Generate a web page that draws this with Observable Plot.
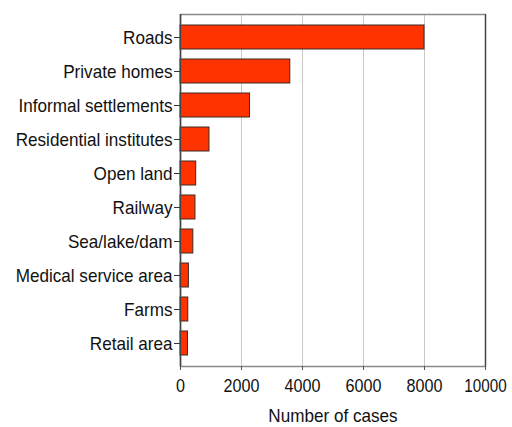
<!DOCTYPE html>
<html>
<head>
<meta charset="utf-8">
<script src="https://cdn.jsdelivr.net/npm/d3@7"></script>
<script src="https://cdn.jsdelivr.net/npm/@observablehq/plot@0.6"></script>
<style>
  html, body { margin: 0; padding: 0; background: #fff; }
  #chart svg { display: block; }
</style>
</head>
<body>
<div id="chart"></div>
<script>
const categories = ["Roads", "Private homes", "Informal settlements", "Residential institutes", "Open land", "Railway", "Sea/lake/dam", "Medical service area", "Farms", "Retail area"];
const cases = [8000, 3600, 2280, 950, 515, 490, 420, 275, 255, 245];
const xTicks = [0, 2000, 4000, 6000, 8000, 10000];

const data = categories.map((c, i) => ({category: c, value: cases[i]}));

const chart = Plot.plot({
  width: 512,
  height: 427,
  marginLeft: 180,
  marginRight: 27,
  marginTop: 14,
  marginBottom: 61,
  style: {fontFamily: "'Liberation Sans', Arial, sans-serif", fontSize: "19px", color: "#111", background: "#fff"},
  x: {domain: [0, 10000], ticks: xTicks, tickFormat: d => String(d), label: "Number of cases", labelAnchor: "center", labelArrow: "none"},
  y: {domain: categories, padding: 0.28, label: null},
  marks: [
    Plot.gridX(xTicks, {stroke: "#c8c8c8", strokeOpacity: 1}),
    Plot.barX(data, {x: "value", y: "category", fill: "#ff3300", stroke: "#3a2a24", strokeWidth: 1}),
    Plot.frame({stroke: "#8a8a8a", strokeWidth: 1.5}),
    Plot.ruleX([0], {stroke: "#444", strokeWidth: 1.5}),
    Plot.ruleX([10000], {stroke: "#444", strokeWidth: 1.2}),
    Plot.axisY({tickSize: 6, tickPadding: 2, stroke: "#333", fontSize: 19}),
    Plot.axisX({ticks: xTicks, tickFormat: d => String(d), tickSize: 4, tickPadding: 8, stroke: "#555", fontSize: 19, label: "Number of cases", labelAnchor: "center", labelArrow: "none", labelOffset: 55})
  ]
});
document.getElementById("chart").appendChild(chart);
// The reference font is horizontally condensed: narrow the glyphs while keeping their height.
const xTickLabels = new Set(xTicks.map(String));
chart.querySelectorAll("text").forEach(t => {
  const w = t.getComputedTextLength();
  if (w > 0) {
    const s = t.textContent.trim();
    const ratio = xTickLabels.has(s) ? (s.length > 4 ? 0.8 : 0.85) : 0.9;
    t.setAttribute("textLength", (w * ratio).toFixed(2));
    t.setAttribute("lengthAdjust", "spacingAndGlyphs");
  }
});
</script>
</body>
</html>
